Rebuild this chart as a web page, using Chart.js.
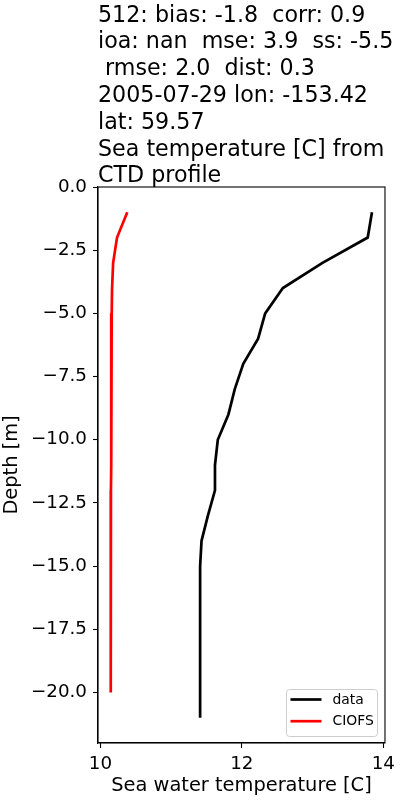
<!DOCTYPE html>
<html>
<head>
<meta charset="utf-8">
<script src="https://cdn.jsdelivr.net/npm/chart.js@4/dist/chart.umd.min.js"></script>
<style>
html,body{margin:0;padding:0;background:#fff;}
#wrap{width:400px;height:800px;position:relative;}
</style>
</head>
<body>
<div id="wrap"><canvas id="c" width="400" height="800"></canvas></div>
<script>
// ---- data ----
const titleLines = [
  "512: bias: -1.8  corr: 0.9",
  "ioa: nan  mse: 3.9  ss: -5.5",
  " rmse: 2.0  dist: 0.3",
  "2005-07-29 lon: -153.42",
  "lat: 59.57",
  "Sea temperature [C] from",
  "CTD profile"
];
const depthData = [-1,-2,-3,-4,-5,-6,-7,-8,-9,-10,-11,-12,-13,-14,-15,-16,-17,-18,-19,-20,-21];
const tempData = [13.84,13.78,13.14,12.58,12.33,12.23,12.02,11.90,11.81,11.66,11.62,11.62,11.52,11.43,11.41,11.41,11.41,11.41,11.41,11.41,11.41];
const depthModel = [-1,-2,-3,-4,-5,-6,-7,-8,-9,-10,-11,-12,-13,-14,-15,-16,-17,-18,-19,-20];
const tempModel = [10.38,10.235,10.18,10.165,10.16,10.157,10.155,10.153,10.152,10.151,10.15,10.149,10.148,10.148,10.147,10.147,10.146,10.146,10.145,10.145];
const seriesLabels = ["data","CIOFS"];
const xTickValues = [10,12,14];
const yTickValues = [0,-2.5,-5,-7.5,-10,-12.5,-15,-17.5,-20];
const xTitle = "Sea water temperature [C]";
const yTitle = "Depth [m]";

const FONT = "'DejaVu Sans', 'Liberation Sans', sans-serif";
const toPts = (xs, ys) => xs.map((x,i)=>({x:x,y:ys[i]}));
const fmtMinus = (v, d) => (v < 0 ? "\u2212" : "") + Math.abs(v).toFixed(d);

const framePlugin = {
  id: 'frame',
  afterDatasetsDraw(chart){
    const {ctx, chartArea:a} = chart;
    ctx.save();
    ctx.strokeStyle = '#000';
    ctx.lineWidth = 1.1;
    ctx.strokeRect(a.left, a.top, a.right-a.left, a.bottom-a.top);
    ctx.restore();
  }
};

const titlePlugin = {
  id: 'mtitle',
  afterDraw(chart){
    const {ctx, chartArea:a} = chart;
    ctx.save();
    ctx.fillStyle = '#000';
    ctx.font = "22.2px " + FONT;
    ctx.textBaseline = 'alphabetic';
    ctx.textAlign = 'left';
    titleLines.forEach((t,i)=>{
      ctx.fillText(t, a.left, 21.5 + i*26.8);
    });
    ctx.restore();
  }
};

const legendPlugin = {
  id: 'mlegend',
  afterDraw(chart){
    const {ctx, chartArea:a} = chart;
    const w = 91, h = 47;
    const right = a.right - 7.5, bottom = a.bottom - 6.5;
    const left = right - w, top = bottom - h;
    ctx.save();
    ctx.beginPath();
    const r = 3;
    ctx.moveTo(left+r, top);
    ctx.arcTo(right, top, right, bottom, r);
    ctx.arcTo(right, bottom, left, bottom, r);
    ctx.arcTo(left, bottom, left, top, r);
    ctx.arcTo(left, top, right, top, r);
    ctx.closePath();
    ctx.fillStyle = 'rgba(255,255,255,0.8)';
    ctx.fill();
    ctx.strokeStyle = '#cccccc';
    ctx.lineWidth = 1;
    ctx.stroke();
    ctx.font = "13.9px " + FONT;
    ctx.textBaseline = 'middle';
    ctx.textAlign = 'left';
    chart.data.datasets.forEach((ds,i)=>{
      const y = top + 10 + i*21.7;
      ctx.strokeStyle = ds.borderColor;
      ctx.lineWidth = ds.borderWidth;
      ctx.beginPath();
      ctx.moveTo(left+4, y);
      ctx.lineTo(left+35, y);
      ctx.stroke();
      ctx.fillStyle = '#000';
      ctx.fillText(ds.label, left+46, y+0.5);
    });
    ctx.restore();
  }
};

new Chart(document.getElementById('c'), {
  type: 'scatter',
  data: {
    datasets: [
      {label: seriesLabels[0], data: toPts(tempData, depthData), showLine: true, borderColor: '#000000', backgroundColor: '#000000', borderWidth: 2.7, pointRadius: 0, tension: 0},
      {label: seriesLabels[1], data: toPts(tempModel, depthModel), showLine: true, borderColor: '#ff0000', backgroundColor: '#ff0000', borderWidth: 2.7, pointRadius: 0, tension: 0}
    ]
  },
  options: {
    responsive: false,
    animation: false,
    devicePixelRatio: 1,
    layout: {padding: {top: 187, right: 14, left: 0, bottom: 0}},
    plugins: {legend: {display: false}, title: {display: false}, tooltip: {enabled: false}},
    scales: {
      x: {
        type: 'linear', min: 9.966, max: 14.024,
        afterBuildTicks: s => { s.ticks = xTickValues.map(v=>({value:v})); },
        afterFit: s => { s.height = 57; },
        grid: {drawOnChartArea: false, drawTicks: true, tickLength: 5, color: '#000', tickWidth: 1.1},
        border: {display: true, color: '#000', width: 1.1},
        ticks: {color: '#000', font: {family: FONT, size: 18.3}, padding: 5, maxRotation: 0, callback: v => fmtMinus(v,0)},
        title: {display: true, text: xTitle, color: '#000', font: {family: FONT, size: 19.4}, padding: {top: 0, bottom: 2}}
      },
      y: {
        type: 'linear', min: -22, max: 0,
        afterBuildTicks: s => { s.ticks = yTickValues.map(v=>({value:v})); },
        afterFit: s => { s.width = 98; },
        grid: {drawOnChartArea: false, drawTicks: true, tickLength: 5, color: '#000', tickWidth: 1.1},
        border: {display: true, color: '#000', width: 1.1},
        ticks: {color: '#000', font: {family: FONT, size: 18.3}, padding: 6, callback: v => fmtMinus(v,1)},
        title: {display: true, text: yTitle, color: '#000', font: {family: FONT, size: 19.4}, padding: {top: 0, bottom: 0}}
      }
    }
  },
  plugins: [framePlugin, titlePlugin, legendPlugin]
});
</script>
</body>
</html>
